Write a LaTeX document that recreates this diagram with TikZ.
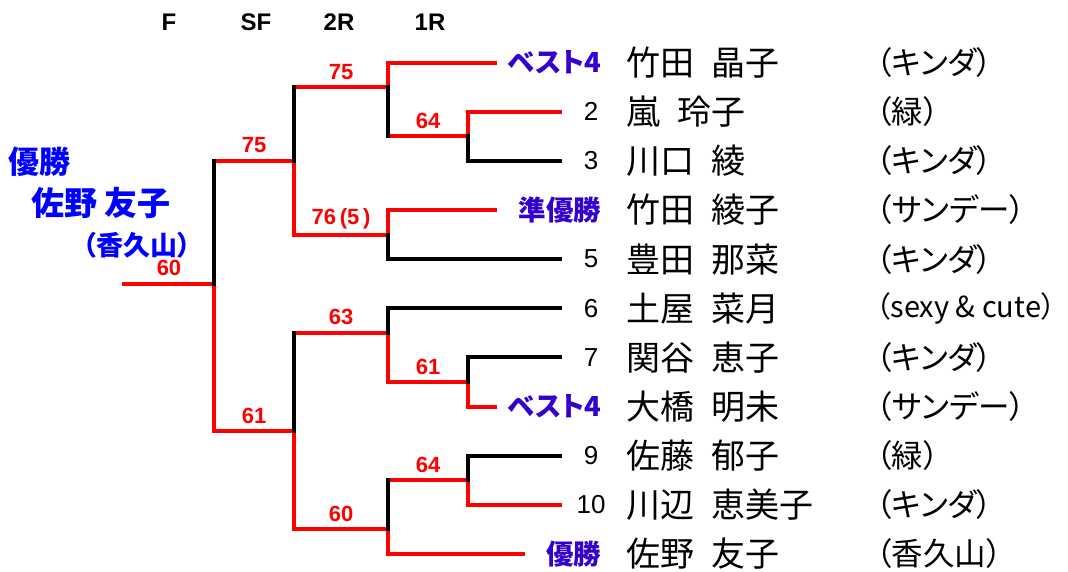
\documentclass[tikz,border=0pt]{standalone}
\usepackage{fontspec}
\usetikzlibrary{calc}
\setmainfont{Liberation Sans}
\newfontfamily\jp{Noto Sans CJK JP}
\newfontfamily\jpp[RawFeature=+palt]{Noto Sans CJK JP}
\definecolor{ttlblue}{RGB}{0,0,255}
\definecolor{labblue}{RGB}{51,0,204}
\newcommand\nmsp{\hspace{17pt}}
\begin{document}
\begin{tikzpicture}[x=1pt,y=-1pt,
  wl/.style={line width=4pt, line cap=rect},
  rl/.style={wl, draw=red},
  bl/.style={wl, draw=black},
  txt/.style={inner sep=0pt, outer sep=0pt},
  hdr/.style={txt, font=\bfseries\fontsize{24}{24}\selectfont},
  score/.style={txt, text=red, font=\bfseries\fontsize{22}{22}\selectfont, yshift=15.5pt},
  pname/.style={txt, anchor=west, font=\jp\fontsize{34}{34}\selectfont},
  pnum/.style={txt, font=\fontsize{26}{26}\selectfont},
  aff/.style={txt, anchor=west, font=\jpp\fontsize{31.5}{31.5}\selectfont},
  rlab/.style={txt, anchor=east, text=labblue, font=\jpp\bfseries\fontsize{27.5}{27.5}\selectfont},
  ttl/.style={txt, anchor=west, text=ttlblue, font=\jpp\bfseries\fontsize{31}{31}\selectfont}
]
\useasboundingbox (0,0) rectangle (1068,571);
% headers
\node[hdr] (hF) at (169,22) {F};
\node[hdr] (hSF) at (256,22) {SF};
\node[hdr] (h2R) at (339,22) {2R};
\node[hdr] (h1R) at (430,22) {1R};
% match junctions
\coordinate (At) at (468,111.7); \coordinate (Ab) at (468,160.8); \coordinate (Ao) at (468,136.2);
\coordinate (Bt) at (388,62.5);  \coordinate (Bb) at (388,136.2); \coordinate (Bo) at (388,87.1);
\coordinate (Ct) at (388,210);   \coordinate (Cb) at (388,259.1); \coordinate (Co) at (388,234.6);
\coordinate (Dt) at (294,87.1);  \coordinate (Db) at (294,234.6); \coordinate (Do) at (294,160.8);
\coordinate (Et) at (468,357.4); \coordinate (Eb) at (468,406.6); \coordinate (Eo) at (468,382);
\coordinate (Ft) at (388,308.3); \coordinate (Fb) at (388,382);   \coordinate (Fo) at (388,332.9);
\coordinate (Gt) at (468,455.7); \coordinate (Gb) at (468,504.9); \coordinate (Go) at (468,480.3);
\coordinate (Ht) at (388,480.3); \coordinate (Hb) at (388,554);   \coordinate (Ho) at (388,529.4);
\coordinate (It) at (294,332.9); \coordinate (Ib) at (294,529.4); \coordinate (Io) at (294,431.2);
\coordinate (Kt) at (214,160.8); \coordinate (Kb) at (214,431.2); \coordinate (Ko) at (214,283.7);
\coordinate (W) at (124,283.7);
% leaf ends
\coordinate (e1) at (495,62.5);
\coordinate (e2) at (560,111.7);
\coordinate (e3) at (560,160.8);
\coordinate (e4) at (495,210);
\coordinate (e5) at (560,259.1);
\coordinate (e6) at (560,308.3);
\coordinate (e7) at (560,357.4);
\coordinate (e8) at (495,406.6);
\coordinate (e9) at (560,455.7);
\coordinate (e10) at (560,504.9);
\coordinate (e11) at (523,554);
% red lines
\draw[rl] (Bt) -- (e1);
\draw[rl] (At) -- (e2);
\draw[rl] (Ct) -- (e4);
\draw[rl] (Eb) -- (e8);
\draw[rl] (Gb) -- (e10);
\draw[rl] (Hb) -- (e11);
\draw[rl] (At) -- (Ao);
\draw[rl] (Bt) -- (Bo);
\draw[rl] (Ct) -- (Co);
\draw[rl] (Do) -- (Db);
\draw[rl] (Eo) -- (Eb);
\draw[rl] (Fo) -- (Fb);
\draw[rl] (Go) -- (Gb);
\draw[rl] (Ho) -- (Hb);
\draw[rl] (Io) -- (Ib);
\draw[rl] (Ko) -- (Kb);
\draw[rl] (Bb) -- (Ao);
\draw[rl] (Dt) -- (Bo);
\draw[rl] (Db) -- (Co);
\draw[rl] (Kt) -- (Do);
\draw[rl] (Fb) -- (Eo);
\draw[rl] (Ht) -- (Go);
\draw[rl] (It) -- (Fo);
\draw[rl] (Ib) -- (Ho);
\draw[rl] (Kb) -- (Io);
\draw[rl] (W) -- (Ko);
% black lines
\draw[bl] (Ab) -- (e3);
\draw[bl] (Cb) -- (e5);
\draw[bl] (Ft) -- (e6);
\draw[bl] (Et) -- (e7);
\draw[bl] (Gt) -- (e9);
\draw[bl] (Ao) -- (Ab);
\draw[bl] (Bo) -- (Bb);
\draw[bl] (Co) -- (Cb);
\draw[bl] (Dt) -- (Do);
\draw[bl] (Et) -- (Eo);
\draw[bl] (Ft) -- (Fo);
\draw[bl] (Gt) -- (Go);
\draw[bl] (Ht) -- (Ho);
\draw[bl] (It) -- (Io);
\draw[bl] (Kt) -- (Ko);
% scores
\node[score] (sA) at ($(Bb)!0.5!(Ao)$) {64};
\node[score] (sB) at ($(Dt)!0.5!(Bo)$) {75};
\node[score] (sC) at ($(Db)!0.5!(Co)$) {76\,(5\,)};
\node[score] (sD) at ($(Kt)!0.5!(Do)$) {75};
\node[score] (sE) at ($(Fb)!0.5!(Eo)$) {61};
\node[score] (sF) at ($(It)!0.5!(Fo)$) {63};
\node[score] (sG) at ($(Ht)!0.5!(Go)$) {64};
\node[score] (sH) at ($(Ib)!0.5!(Ho)$) {60};
\node[score] (sI) at ($(Kb)!0.5!(Io)$) {61};
\node[score] (sK) at ($(W)!0.5!(Ko)$) {60};
% right labels and numbers
\node[rlab] (l1) at (601,62.5) {ベスト4};
\node[pnum] (n2) at (591,111.7) {2};
\node[pnum] (n3) at (591,160.8) {3};
\node[rlab] (l4) at (601,210) {準優勝};
\node[pnum] (n5) at (591,259.1) {5};
\node[pnum] (n6) at (591,308.3) {6};
\node[pnum] (n7) at (591,357.4) {7};
\node[rlab] (l8) at (601,406.6) {ベスト4};
\node[pnum] (n9) at (591,455.7) {9};
\node[pnum] (n10) at (591,504.9) {10};
\node[rlab] (l11) at (601,554) {優勝};
% names
\node[pname] (p1) at (626,62.5) {竹田\nmsp 晶子};
\node[pname] (p2) at (626,111.7) {嵐\nmsp 玲子};
\node[pname] (p3) at (626,160.8) {川口\nmsp 綾};
\node[pname] (p4) at (626,210) {竹田\nmsp 綾子};
\node[pname] (p5) at (626,259.1) {豊田\nmsp 那菜};
\node[pname] (p6) at (626,308.3) {土屋\nmsp 菜月};
\node[pname] (p7) at (626,357.4) {関谷\nmsp 恵子};
\node[pname] (p8) at (626,406.6) {大橋\nmsp 明未};
\node[pname] (p9) at (626,455.7) {佐藤\nmsp 郁子};
\node[pname] (p10) at (626,504.9) {川辺\nmsp 恵美子};
\node[pname] (p11) at (626,554) {佐野\nmsp 友子};
% affiliations
\node[aff] (a1) at (876,62.5) {（キンダ）};
\node[aff] (a2) at (876,111.7) {（緑）};
\node[aff] (a3) at (876,160.8) {（キンダ）};
\node[aff] (a4) at (876,210) {（サンデー）};
\node[aff] (a5) at (876,259.1) {（キンダ）};
\node[aff, font=\jpp\fontsize{29}{29}\selectfont] (a6) at (876,308.3) {（sexy \& cute）};
\node[aff] (a7) at (876,357.4) {（キンダ）};
\node[aff] (a8) at (876,406.6) {（サンデー）};
\node[aff] (a9) at (876,455.7) {（緑）};
\node[aff] (a10) at (876,504.9) {（キンダ）};
\node[aff] (a11) at (876,554) {（香久山）};
% champion title
\node[ttl] (t1) at (9,162) {優勝};
\node[ttl, font=\jpp\bfseries\fontsize{33}{33}\selectfont] (t2) at (31,203) {佐野\hspace{8pt}友子};
\node[ttl, font=\jpp\bfseries\fontsize{27}{27}\selectfont] (t3) at (83,245) {（香久山）};
\end{tikzpicture}
\end{document}
